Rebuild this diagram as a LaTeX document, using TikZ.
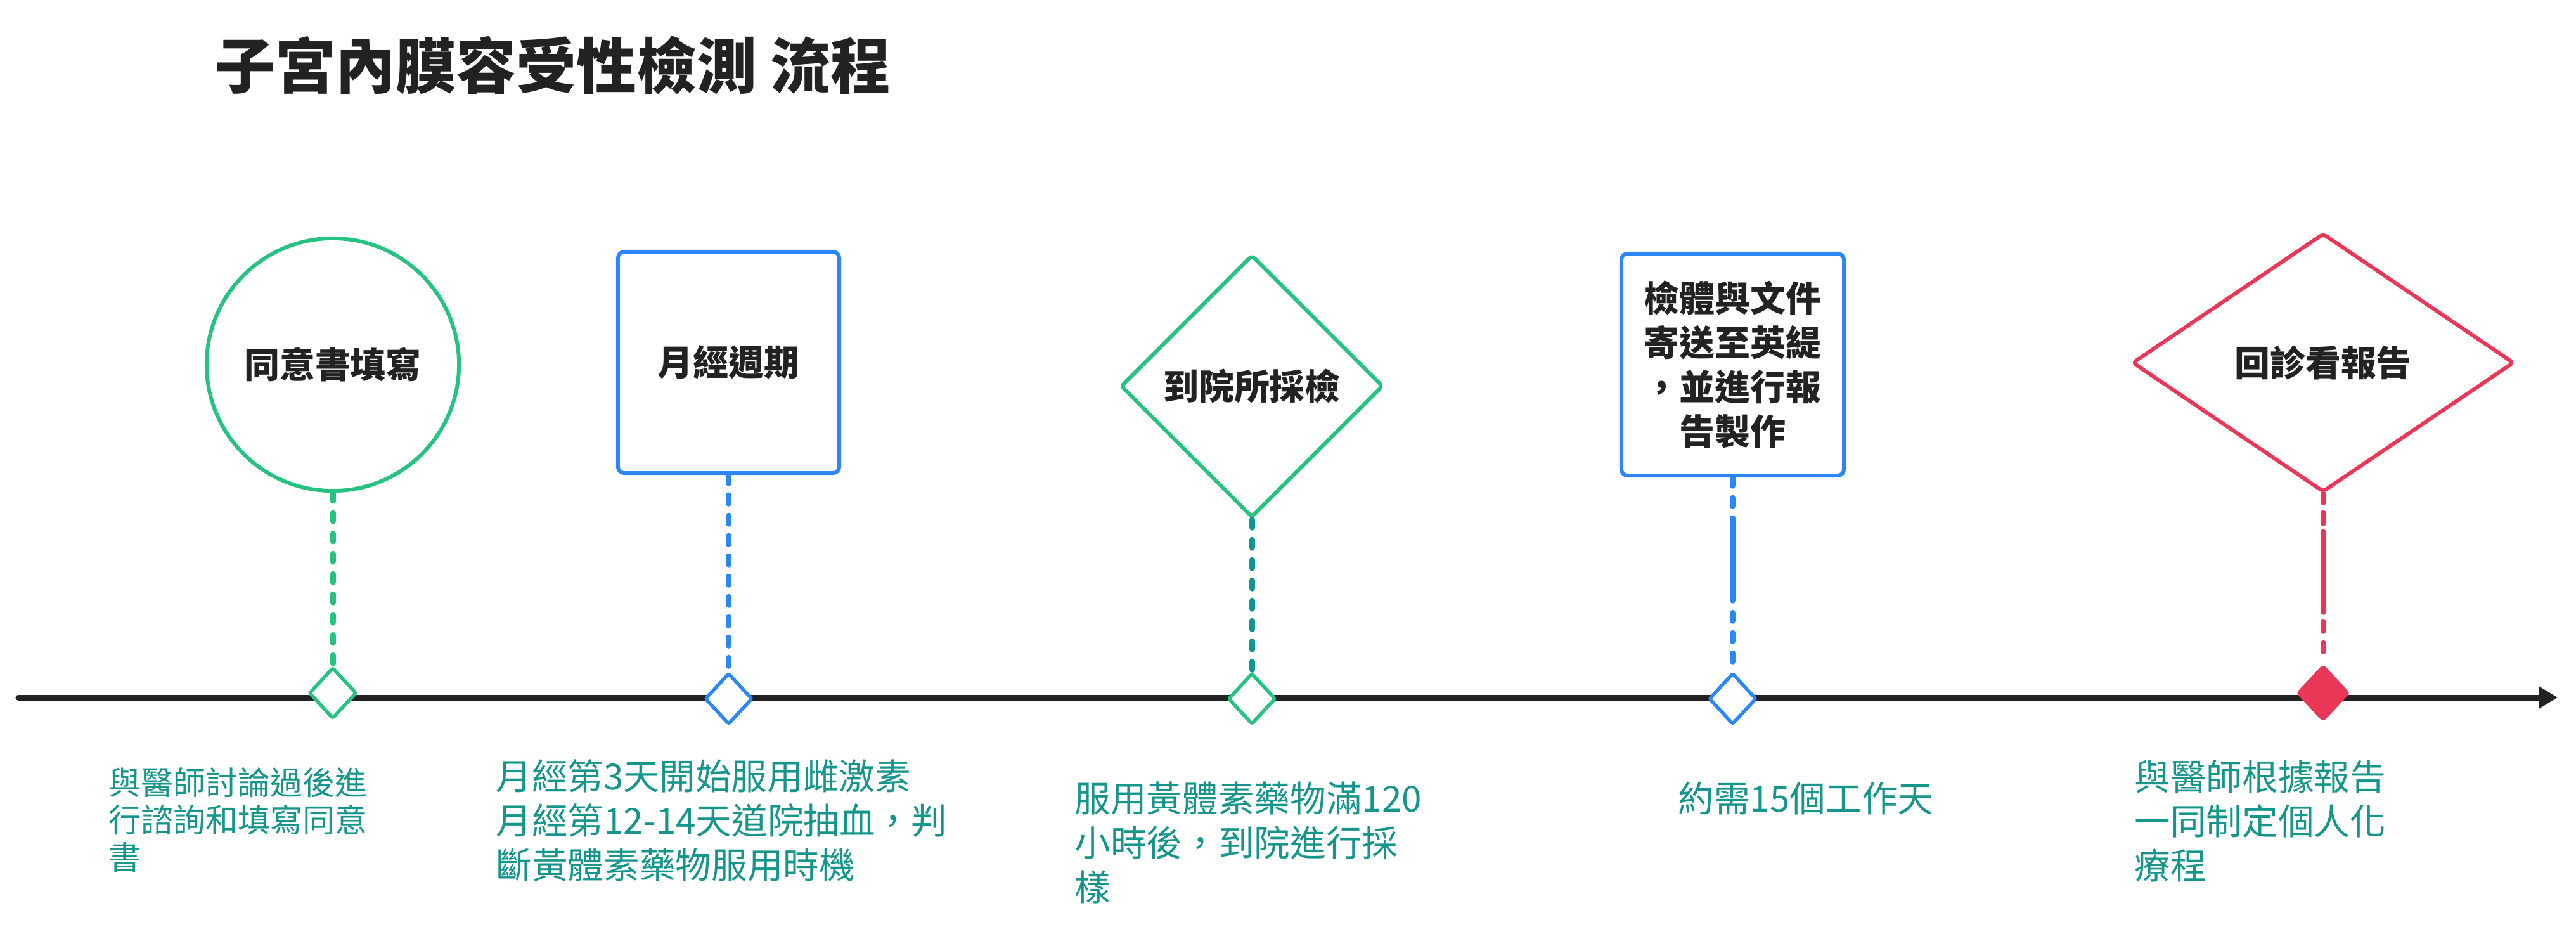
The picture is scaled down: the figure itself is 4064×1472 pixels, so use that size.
\documentclass[tikz,border=0pt]{standalone}
\usepackage{fontspec}
\setmainfont{Noto Sans CJK TC}
\usetikzlibrary{shapes.geometric,arrows.meta}
\definecolor{cgreen}{RGB}{38,194,129}
\definecolor{cblue}{RGB}{42,135,245}
\definecolor{cred}{RGB}{234,55,88}
\definecolor{cteal}{RGB}{22,150,139}
\definecolor{cstem}{RGB}{16,150,144}
\definecolor{cdark}{RGB}{34,34,34}
\begin{document}
\begin{tikzpicture}[x=0.01cm,y=-0.01cm,
  shapeline/.style={line width=0.06cm, fill=white},
  lbl/.style={font=\fontsize{15.9pt}{19.9pt}\selectfont\bfseries, text=cdark, align=center, inner sep=0},
  marker/.style={diamond, line width=0.055cm, fill=white, minimum width=0.75cm, minimum height=0.81cm, inner sep=0, rounded corners=0.03cm},
  stem/.style={line width=0.09cm, line cap=round, dash pattern=on 0.13cm off 0.19cm},
  desc/.style={anchor=north west, inner sep=0, align=left, text=cteal, font=\fontsize{16.1pt}{19.9pt}\selectfont},
]
\useasboundingbox (0,0) rectangle (4064,1472);

% title
\node[anchor=north west, inner sep=0, font=\fontsize{27pt}{32pt}\selectfont\bfseries, text=cdark] (title) at (339,56) {子宮內膜容受性檢測 流程};

% timeline
\coordinate (tlstart) at (29,1100);
\coordinate (tlend) at (4035,1100);
\draw[line width=0.09cm, cdark, line cap=round, -{Triangle[length=0.3cm,width=0.34cm]}] (tlstart) -- (tlend);

% main shapes
\node[circle, shapeline, draw=cgreen, lbl, minimum size=3.98cm] (c1) at (525,575) {同意書填寫};
\node[rectangle, shapeline, draw=cblue, lbl, minimum width=3.49cm, minimum height=3.49cm, rounded corners=0.1cm] (r1) at (1149.5,571.5) {月經週期};
\node[diamond, shapeline, draw=cgreen, lbl, minimum width=4.14cm, minimum height=4.14cm, rounded corners=0.06cm] (dm1) at (1975,609) {到院所採檢};
\node[rectangle, shapeline, draw=cblue, lbl, minimum width=3.51cm, minimum height=3.5cm, rounded corners=0.1cm] (r2) at (2733.5,575) {檢體與文件\\寄送至英緹\\，並進行報\\告製作};
\node[diamond, shapeline, draw=cred, lbl, minimum width=6.02cm, minimum height=4.08cm, rounded corners=0.06cm] (dm2) at (3665,572) {回診看報告};

% markers
\node[marker, draw=cgreen] (m1) at (525,1093) {};
\node[marker, draw=cblue] (m2) at (1149.5,1102) {};
\node[marker, draw=cgreen] (m3) at (1975,1102) {};
\node[marker, draw=cblue] (m4) at (2733.5,1102) {};
\node[marker, draw=cred, fill=cred, minimum width=0.8cm, minimum height=0.85cm] (m5) at (3665,1093) {};

% stems
\draw[stem, cgreen] (c1.south) -- (m1.north);
\draw[stem, cblue] (r1.south) -- (m2.north);
\draw[stem, cstem] (dm1.south) -- (m3.north);
\draw[stem, cblue, dash pattern=on 0.13cm off 0.19cm on 0.13cm off 0.19cm on 1.3cm off 0.19cm on 0.13cm off 0.19cm on 0.13cm off 0.19cm on 0.13cm off 1cm] (r2.south) -- (m4.north);
\draw[stem, cred, dash pattern=on 0.13cm off 0.17cm on 0.16cm off 0.14cm on 1.26cm off 0.16cm on 0.14cm off 0.19cm on 0.13cm off 1cm] (dm2.south) -- (m5.north);

% descriptions
\node[desc, font=\fontsize{14.5pt}{16.8pt}\selectfont] (d1) at (171,1210) {與醫師討論過後進\\行諮詢和填寫同意\\書};
\node[desc] (d2) at (782,1197) {月經第3天開始服用雌激素\\月經第12-14天道院抽血，判\\斷黃體素藥物服用時機};
\node[desc] (d3) at (1695,1232) {服用黃體素藥物滿120\\小時後，到院進行採\\樣};
\node[desc] (d4) at (2647,1232) {約需15個工作天};
\node[desc] (d5) at (3367,1198) {與醫師根據報告\\一同制定個人化\\療程};
\end{tikzpicture}
\end{document}
